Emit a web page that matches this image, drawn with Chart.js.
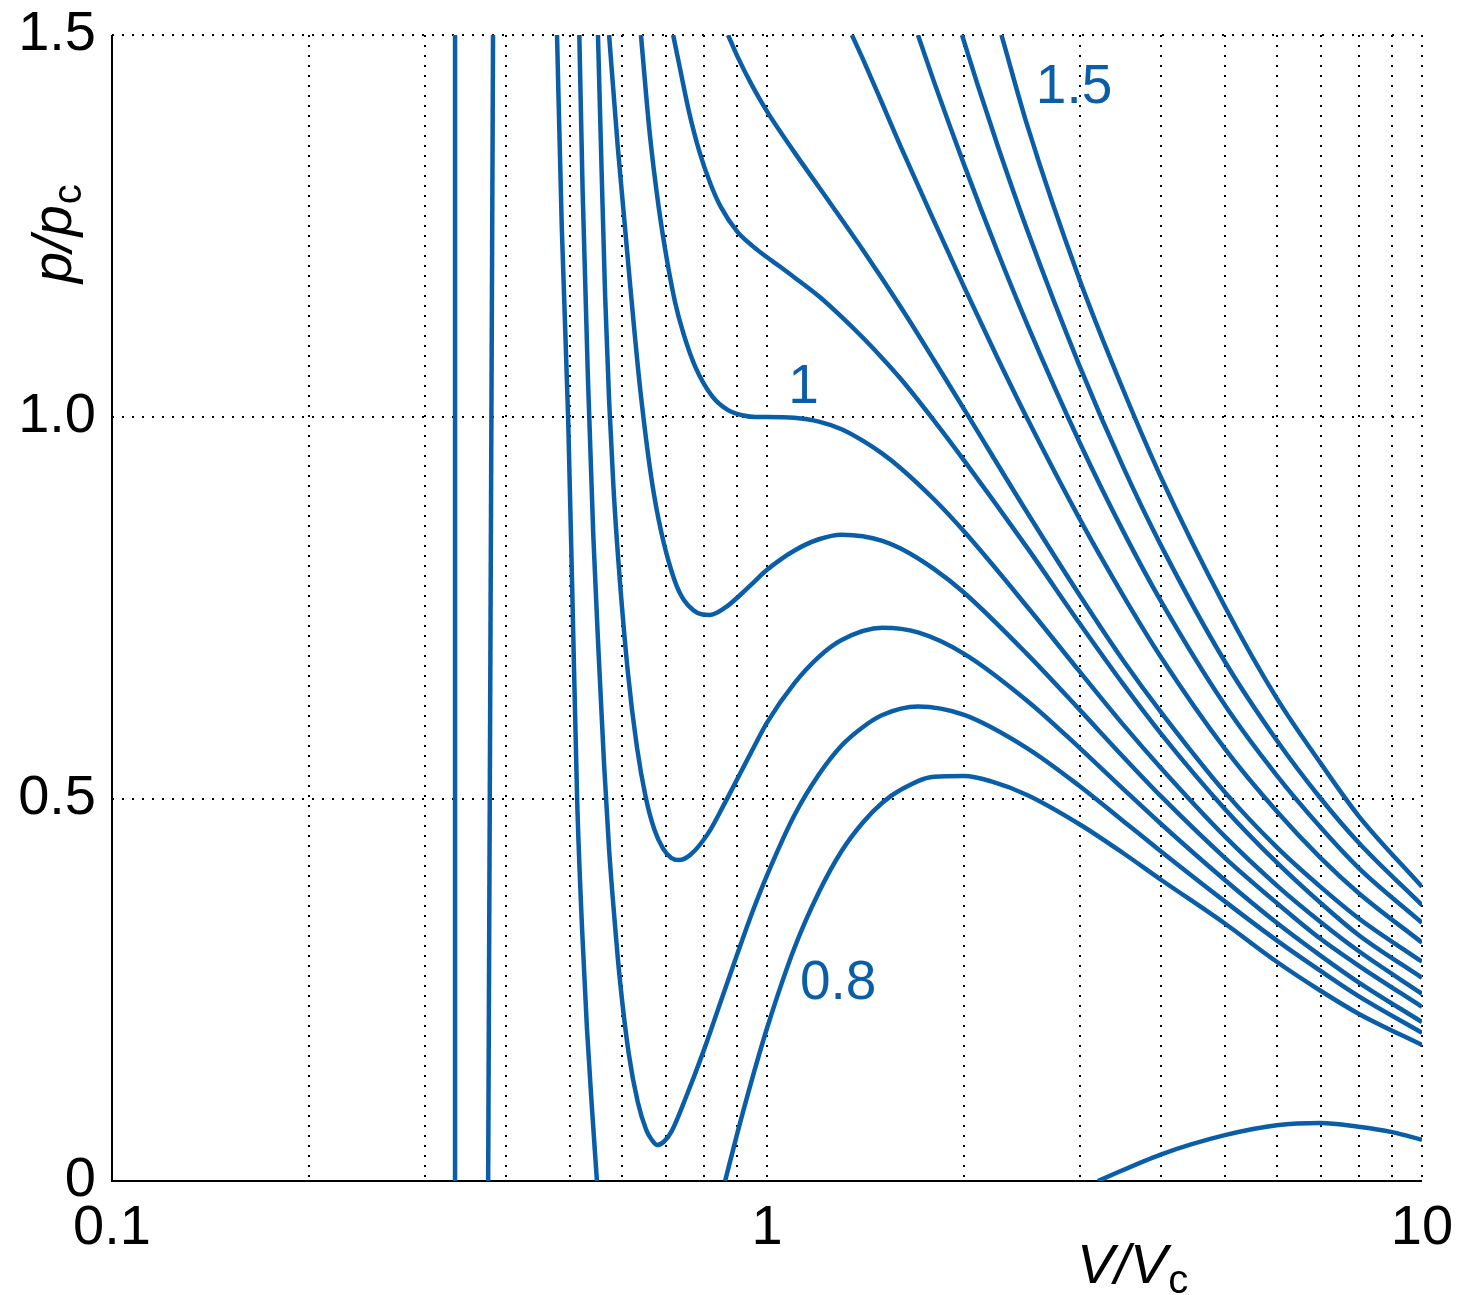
<!DOCTYPE html>
<html>
<head>
<meta charset="utf-8">
<script src="https://cdn.jsdelivr.net/npm/chart.js@4.4.1/dist/chart.umd.min.js"></script>
<style>
    html, body { margin: 0; padding: 0; background: #fff; }
    #contenedor { width: 1460px; height: 1295px; }
</style>
</head>
<body>
<div id="contenedor"><canvas id="grafico" width="1460" height="1295"></canvas></div>
<script>
// isotermas: volumen reducido V/Vc y presion reducida p/pc
const v08a = [0.478, 0.486, 0.497, 0.505, 0.513, 0.522, 0.531, 0.541, 0.55];
const p08a = [1.5, 1.25, 1.0, 0.75, 0.5, 0.33, 0.2, 0.09, 0];

const v08b = [0.863, 0.9, 0.95, 1.0, 1.1, 1.2, 1.3, 1.4, 1.5, 1.6, 1.8, 2.0, 2.2, 2.5, 3, 3.5, 4, 5, 6, 7, 8, 10];
const p08b = [0, 0.061, 0.135, 0.2, 0.304, 0.378, 0.432, 0.469, 0.495, 0.512, 0.529, 0.53, 0.523, 0.505, 0.467, 0.429, 0.394, 0.337, 0.287, 0.249, 0.219, 0.178];

const v085 = [0.517, 0.523, 0.533, 0.543, 0.554, 0.564, 0.574, 0.585, 0.595, 0.615, 0.635, 0.654, 0.668, 0.68, 0.695, 0.715, 0.75, 0.8, 0.85, 0.9, 0.95, 1.0, 1.1, 1.2, 1.3, 1.4, 1.5, 1.7, 2.0, 2.5, 3, 3.5, 4, 5, 6, 7, 8, 10];
const p085 = [1.5, 1.296, 1.048, 0.845, 0.68, 0.545, 0.434, 0.343, 0.271, 0.167, 0.103, 0.067, 0.053, 0.047, 0.051, 0.065, 0.107, 0.17, 0.235, 0.296, 0.352, 0.4, 0.478, 0.532, 0.57, 0.594, 0.61, 0.621, 0.61, 0.566, 0.517, 0.471, 0.431, 0.366, 0.315, 0.275, 0.242, 0.194];

const v09 = [0.552, 0.559, 0.566, 0.574, 0.583, 0.593, 0.613, 0.633, 0.653, 0.673, 0.694, 0.714, 0.734, 0.764, 0.813, 0.86, 0.907, 0.955, 1.0, 1.1, 1.2, 1.3, 1.5, 1.7, 2.0, 2.5, 3, 3.5, 4, 5, 6, 7, 8, 10];
const p09 = [1.5, 1.325, 1.16, 1.022, 0.907, 0.812, 0.667, 0.568, 0.502, 0.46, 0.435, 0.423, 0.42, 0.427, 0.455, 0.493, 0.531, 0.568, 0.6, 0.651, 0.686, 0.708, 0.724, 0.718, 0.69, 0.628, 0.567, 0.513, 0.467, 0.394, 0.338, 0.295, 0.26, 0.208];

const v095 = [0.574, 0.592, 0.619, 0.641, 0.672, 0.722, 0.772, 0.818, 0.865, 0.91, 0.955, 1.0, 1.1, 1.2, 1.3, 1.4, 1.5, 1.6, 1.8, 2.0, 2.5, 3, 3.5, 4, 5, 6, 7, 8, 10];
const p095 = [1.5, 1.352, 1.167, 1.033, 0.899, 0.787, 0.747, 0.741, 0.751, 0.767, 0.784, 0.8, 0.825, 0.84, 0.846, 0.844, 0.838, 0.828, 0.801, 0.77, 0.689, 0.617, 0.555, 0.503, 0.423, 0.364, 0.317, 0.282, 0.228];

const v10 = [0.642, 0.662, 0.683, 0.704, 0.724, 0.745, 0.776, 0.825, 0.872, 0.92, 0.96, 1.0, 1.1, 1.2, 1.3, 1.4, 1.5, 1.6, 1.8, 2.0, 2.5, 3, 3.5, 4, 5, 6, 7, 8, 10];
const p10 = [1.5, 1.372, 1.276, 1.204, 1.15, 1.11, 1.067, 1.027, 1.009, 1.002, 1.0, 1.0, 0.999, 0.994, 0.984, 0.969, 0.952, 0.933, 0.892, 0.85, 0.751, 0.667, 0.597, 0.54, 0.451, 0.387, 0.339, 0.301, 0.245];

const v105 = [0.719, 0.737, 0.76, 0.79, 0.82, 0.85, 0.9, 0.95, 1.0, 1.05, 1.1, 1.2, 1.3, 1.4, 1.5, 1.6, 1.8, 2.0, 2.5, 3, 3.5, 4, 5, 6, 7, 8, 10];
const p105 = [1.5, 1.455, 1.4, 1.345, 1.305, 1.275, 1.243, 1.224, 1.209, 1.196, 1.183, 1.158, 1.131, 1.104, 1.077, 1.05, 0.995, 0.943, 0.828, 0.73, 0.65, 0.585, 0.487, 0.417, 0.364, 0.322, 0.266];

const v11 = [0.872, 0.9, 0.95, 1.0, 1.1, 1.2, 1.4, 1.6, 1.8, 2.0, 2.5, 3, 3.5, 4, 5, 6, 7, 8, 10];
const p11 = [1.5, 1.473, 1.433, 1.4, 1.347, 1.301, 1.219, 1.144, 1.074, 1.01, 0.874, 0.767, 0.681, 0.613, 0.509, 0.437, 0.385, 0.344, 0.287];

const v12 = [1.348, 1.4, 1.5, 1.6, 1.8, 2.0, 2.25, 2.5, 3, 3.5, 4, 5, 6, 7, 8, 10];
const p12 = [1.5, 1.469, 1.41, 1.354, 1.256, 1.17, 1.077, 0.997, 0.867, 0.766, 0.685, 0.566, 0.484, 0.423, 0.377, 0.312];

const v13 = [1.7, 1.8, 2.0, 2.25, 2.5, 3, 3.5, 4, 5, 6, 7, 8, 10];
const p13 = [1.5, 1.438, 1.33, 1.216, 1.12, 0.967, 0.85, 0.758, 0.623, 0.531, 0.463, 0.41, 0.338];

const v14 = [1.985, 2.1, 2.25, 2.5, 3, 3.5, 4, 5, 6, 7, 8, 10];
const p14 = [1.5, 1.433, 1.355, 1.243, 1.067, 0.934, 0.831, 0.68, 0.577, 0.501, 0.443, 0.361];

const v15 = [2.28, 2.5, 3, 3.5, 4, 5, 6, 7, 8, 10];
const p15 = [1.5, 1.38, 1.18, 1.035, 0.92, 0.752, 0.632, 0.547, 0.478, 0.385];

const vBaja = [3.2, 4, 5, 6, 7, 8, 9, 10];
const pBaja = [0, 0.035, 0.06, 0.073, 0.076, 0.071, 0.064, 0.054];

// ramas casi verticales a la izquierda
const vRectaA = [0.334, 0.334];
const pRectaA = [0, 1.5];
const vRectaB = [0.3752, 0.3817];
const pRectaB = [0, 1.5];

// ejes
const xGrid = [0.1, 0.2, 0.3, 0.4, 0.5, 0.6, 0.7, 0.8, 0.9, 1, 2, 3, 4, 5, 6, 7, 8, 9, 10];
const xTickVals = [0.1, 1, 10];
const xTickText = ['0.1', '1', '10'];
const yGrid = [0, 0.5, 1, 1.5];
const yTickText = ['0', '0.5', '1.0', '1.5'];

// rotulos de las isotermas
const etiquetas = [
    { texto: '1.5', v: 2.943, p: 1.431 },
    { texto: '1', v: 1.137, p: 1.038 },
    { texto: '0.8', v: 1.284, p: 0.258 }
];

const azul = '#0a5ea8';
const fuente = '"Liberation Sans", Arial, Helvetica, sans-serif';

const curvas = [
    [v08a, p08a], [v08b, p08b], [v085, p085], [v09, p09], [v095, p095], [v10, p10],
    [v105, p105], [v11, p11], [v12, p12], [v13, p13], [v14, p14], [v15, p15], [vBaja, pBaja]
];
const rectas = [[vRectaA, pRectaA], [vRectaB, pRectaB]];

const puntos = (vs, ps) => vs.map((v, i) => ({ x: v, y: ps[i] }));

const datasets = curvas.map(([vs, ps]) => ({
    data: puntos(vs, ps),
    borderColor: azul,
    borderWidth: 4.5,
    pointRadius: 0,
    fill: false,
    cubicInterpolationMode: 'monotone'
})).concat(rectas.map(([vs, ps]) => ({
    data: puntos(vs, ps),
    borderColor: azul,
    borderWidth: 4.5,
    pointRadius: 0,
    fill: false,
    tension: 0
})));

const extras = {
    id: 'extras',
    beforeDatasetsDraw(chart) {
        const { ctx, chartArea: a } = chart;
        ctx.save();
        ctx.strokeStyle = '#000';
        ctx.lineWidth = 2;
        ctx.beginPath();
        ctx.moveTo(a.left, a.top);
        ctx.lineTo(a.left, a.bottom);
        ctx.lineTo(a.right, a.bottom);
        ctx.stroke();
        ctx.restore();
    },
    afterDraw(chart) {
        const { ctx, chartArea: a, scales: { x, y } } = chart;
        ctx.save();

        ctx.fillStyle = azul;
        ctx.font = '55px ' + fuente;
        ctx.textAlign = 'center';
        ctx.textBaseline = 'middle';
        etiquetas.forEach(e => {
            ctx.fillText(e.texto, x.getPixelForValue(e.v), y.getPixelForValue(e.p));
        });

        // titulo eje x: V/Vc
        ctx.fillStyle = '#000';
        ctx.textAlign = 'left';
        ctx.textBaseline = 'alphabetic';
        let px = a.right - 345;
        const base = a.bottom + 102;
        ctx.font = 'italic 56px ' + fuente;
        ctx.fillText('V/V', px, base);
        px += ctx.measureText('V/V').width + 1;
        ctx.font = '40px ' + fuente;
        ctx.fillText('c', px, base + 10);

        // titulo eje y: p/pc (girado)
        ctx.translate(a.left - 41, a.top + 248);
        ctx.rotate(-Math.PI / 2);
        ctx.font = 'italic 56px ' + fuente;
        ctx.fillText('p/p', 0, 0);
        const w = ctx.measureText('p/p').width + 1;
        ctx.font = '40px ' + fuente;
        ctx.fillText('c', w, 10);

        ctx.restore();
    }
};

new Chart(document.getElementById('grafico'), {
    type: 'line',
    data: { datasets },
    options: {
        responsive: false,
        animation: false,
        devicePixelRatio: 1,
        events: [],
        layout: { padding: { top: 35, right: 38, left: 0, bottom: 0 } },
        plugins: {
            legend: { display: false },
            tooltip: { enabled: false }
        },
        scales: {
            x: {
                type: 'logarithmic',
                min: 0.1,
                max: 10,
                afterBuildTicks: s => { s.ticks = xGrid.map(v => ({ value: v })); },
                afterFit: s => { s.height = 114; s.paddingLeft = 0; s.paddingRight = 0; },
                ticks: {
                    autoSkip: false,
                    maxRotation: 0,
                    padding: 14,
                    color: '#000',
                    font: { family: fuente, size: 56 },
                    callback: val => {
                        const i = xTickVals.indexOf(val);
                        return i >= 0 ? xTickText[i] : '';
                    }
                },
                grid: { color: '#000', lineWidth: 2, drawTicks: false },
                border: { display: false, dash: [2, 8] }
            },
            y: {
                type: 'linear',
                min: 0,
                max: 1.5,
                afterBuildTicks: s => { s.ticks = yGrid.map(v => ({ value: v })); },
                afterFit: s => { s.width = 112; s.paddingTop = 0; s.paddingBottom = 0; },
                ticks: {
                    padding: 16,
                    color: '#000',
                    font: { family: fuente, size: 56 },
                    callback: (val, i) => yTickText[i]
                },
                grid: { color: '#000', lineWidth: 2, drawTicks: false },
                border: { display: false, dash: [2, 8] }
            }
        }
    },
    plugins: [extras]
});
</script>
</body>
</html>
